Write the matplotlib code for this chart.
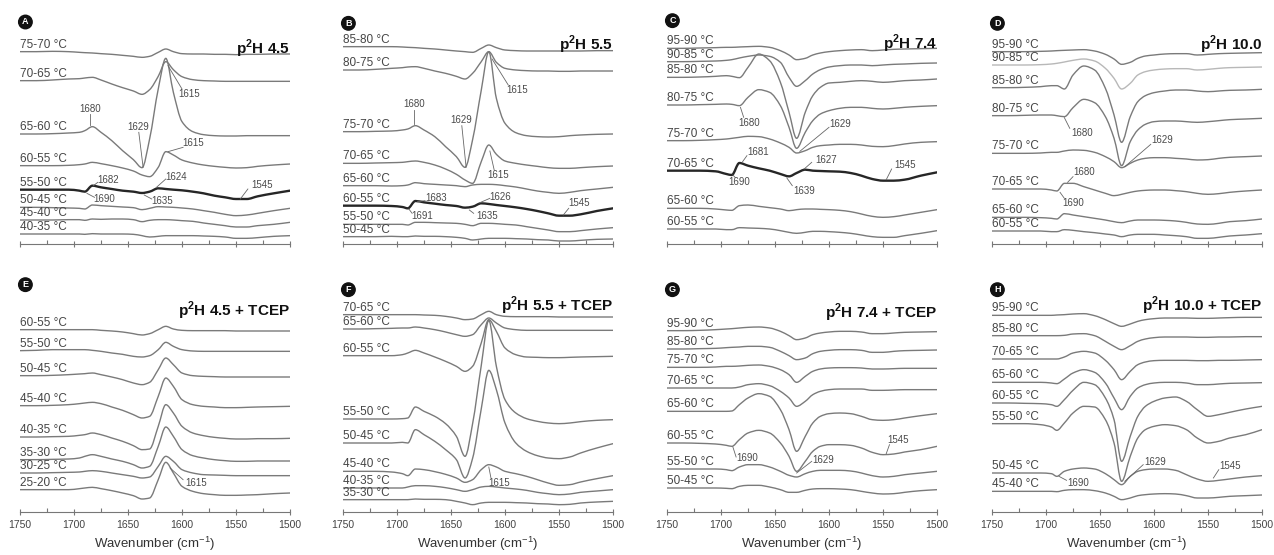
import numpy as np
import matplotlib
matplotlib.use('Agg')
import matplotlib.pyplot as plt
from matplotlib.ticker import MultipleLocator
from matplotlib.path import Path
from matplotlib.patches import PathPatch

plt.rcParams['font.family'] = ['Liberation Sans', 'DejaVu Sans']
plt.rcParams['mathtext.fontset'] = 'custom'
plt.rcParams['mathtext.rm'] = 'Liberation Sans'
plt.rcParams['mathtext.bf'] = 'Liberation Sans:bold'

################################################################################
# Data: difference spectra (arbitrary units) sampled on a common wavenumber grid
################################################################################
wavenumber = [1750, 1735, 1720, 1705, 1695, 1690, 1683, 1675, 1665, 1655, 1645, 1637, 1630,
              1622, 1615, 1608, 1600, 1590, 1580, 1570, 1560, 1550, 1540, 1530, 1515, 1500]

# A - p2H 4.5
A_labels = ["75-70 °C", "70-65 °C", "65-60 °C", "60-55 °C", "55-50 °C", "50-45 °C", "45-40 °C", "40-35 °C"]
A_offsets = [577, 490, 330, 235, 163, 110, 72, 30]
A_spectra = [
    [0, 0, 1, 0, -2, -3, -4, -6, -8, -11, -14, -17, -14, -2, 8, 0, -6, -7, -7, -8, -8, -9, -8, -8, -7, -7],
    [0, 0, 2, 5, 6, 8, 10, 2, -10, -21, -31, -41, -27, 13, 57, 33, 12, 3, 0, -1, -2, -2, -2, -2, -2, -2],
    [0, 0, 1, 3, 5, 10, 22, 5, -20, -50, -77, -101, -15, 135, 227, 125, 37, 7, -2, -5, -6, -6, -5, -5, -5, -5],
    [0, 0, 0, 1, 3, 5, 10, 6, 0, -7, -16, -28, -33, -5, 42, 32, 17, 8, 2, -2, -5, -7, -6, -2, 2, 5],
    [0, 0, 0, 0, -3, -6, 12, 7, 2, -3, -6, -10, -6, 4, 2, 0, -2, -6, -11, -18, -23, -28, -28, -20, -11, -3],
    [0, 0, -1, -2, -3, -5, 7, 5, 3, 1, -1, -7, -3, 2, 1, 0, -2, -5, -10, -15, -21, -25, -23, -18, -10, -3],
    [0, 0, 0, 1, 1, -1, 3, 2, 3, 3, 1, -5, -1, 1, 1, 0, -2, -4, -9, -13, -17, -21, -21, -17, -13, -7],
    [0, 0, 0, 0, 0, -1, 1, 0, 0, 0, -1, -5, -9, -7, -5, -5, -5, -5, -6, -7, -9, -13, -13, -11, -7, -5],
]
A_notes = [("1680", 1685, 405, 1685, 390, 1685, 357), ("1629", 1641, 350, 1640, 335, 1636, 230),
           ("1615", 1593, 450, 1600, 465, 1613, 535), ("1615", 1590, 303, 1599, 290, 1613, 277),
           ("1682", 1668, 192, 1678, 185, 1682, 175), ("1690", 1672, 135, 1681, 140, 1688, 152),
           ("1624", 1605, 202, 1615, 195, 1624, 169), ("1635", 1618, 130, 1628, 135, 1635, 147),
           ("1545", 1526, 178, 1539, 165, 1546, 135)]

# B - p2H 5.5
B_labels = ["85-80 °C", "80-75 °C", "75-70 °C", "70-65 °C", "65-60 °C", "60-55 °C", "55-50 °C", "50-45 °C"]
B_offsets = [592, 522, 337, 242, 175, 115, 59, 22]
B_spectra = [
    [0, 0, 0, 0, -1, -2, -3, -5, -7, -10, -13, -15, -17, -5, 5, -3, -10, -12, -13, -13, -13, -13, -13, -13, -12, -12],
    [0, 0, 2, 5, 7, 9, 10, 5, -3, -10, -19, -27, -10, 25, 55, 23, 5, 0, -2, -3, -3, -4, -4, -3, -3, -3],
    [0, 0, 1, 2, 5, 8, 18, 5, -15, -45, -75, -107, -24, 124, 240, 100, 25, -3, -12, -15, -16, -15, -12, -10, -8, -7],
    [0, 0, 1, 2, 3, 5, 7, 3, -5, -17, -33, -50, -60, 5, 55, 27, 7, 0, -5, -9, -13, -15, -15, -13, -10, -8],
    [0, 0, 0, -1, 0, 2, 9, 6, 4, 2, 0, -3, 2, 4, 4, 3, 0, -4, -10, -16, -20, -23, -20, -15, -10, -5],
    [0, 0, 0, -1, -4, -8, 14, 10, 6, 2, -1, -6, -3, 7, 5, 2, -1, -5, -10, -16, -23, -30, -30, -26, -16, -8],
    [0, 0, 0, 0, 0, -2, 6, 6, 5, 4, 3, 0, -4, 3, 3, 2, 0, -2, -7, -12, -17, -22, -22, -19, -14, -10],
    [0, 0, 0, 1, 0, 0, 2, 1, 1, 0, -2, -5, -10, -7, -5, -5, -5, -6, -7, -9, -10, -13, -13, -11, -8, -7],
]
B_notes = [("1615", 1589, 462, 1597, 477, 1612, 555), ("1680", 1684, 419, 1684, 402, 1684, 360),
           ("1629", 1641, 372, 1640, 355, 1636, 230), ("1615", 1606, 207, 1610, 222, 1614, 279),
           ("1683", 1664, 137, 1674, 130, 1681, 127), ("1691", 1677, 84, 1686, 92, 1689, 105),
           ("1626", 1604, 142, 1614, 137, 1624, 123), ("1635", 1617, 84, 1629, 92, 1633, 102),
           ("1545", 1531, 122, 1541, 107, 1546, 87)]

# C - p2H 7.4
C_labels = ["95-90 °C", "90-85 °C", "85-80 °C", "80-75 °C", "75-70 °C", "70-65 °C", "65-60 °C", "60-55 °C"]
C_offsets = [587, 547, 500, 417, 310, 220, 107, 45]
C_spectra = [
    [0, 0, 1, 2, 3, 3, 4, 5, 6, 3, -7, -20, -34, -30, -20, -14, -10, -7, -5, -4, -7, -5, -3, -2, -1, 0],
    [0, 0, 1, 2, 4, 6, 11, 16, 20, 16, -2, -47, -74, -57, -37, -24, -16, -12, -10, -10, -12, -10, -8, -7, -5, -4],
    [0, 0, 1, 3, 5, 3, -1, 30, 70, 50, -15, -105, -183, -105, -55, -30, -17, -15, -12, -10, -12, -15, -13, -10, -8, -5],
    [0, 0, 1, 2, 3, 2, -2, 23, 46, 38, -2, -67, -130, -82, -47, -27, -17, -10, -7, -7, -10, -12, -10, -7, -4, -2],
    [0, 0, 1, 3, 5, 7, 10, 13, 12, 5, -7, -20, -37, -30, -20, -15, -13, -11, -11, -13, -17, -18, -15, -10, -5, -3],
    [0, 0, 0, -2, -10, -13, 23, 15, 7, 0, -10, -17, -7, 3, 0, -1, -2, -3, -7, -15, -25, -30, -30, -27, -15, -5],
    [0, 0, 0, -2, -5, -6, 8, 10, 6, 2, -2, -7, -4, -2, -2, -3, -4, -6, -10, -17, -24, -27, -25, -20, -12, -4],
    [0, 0, 0, 0, -2, -2, 4, 3, 2, 0, -5, -10, -13, -10, -7, -7, -8, -10, -13, -18, -23, -25, -25, -20, -13, -5],
]
C_notes = [("1680", 1674, 363, 1679, 380, 1682, 410), ("1629", 1590, 360, 1600, 350, 1627, 278),
           ("1681", 1666, 275, 1676, 265, 1680, 247), ("1690", 1683, 187, 1687, 200, 1689, 207),
           ("1627", 1603, 253, 1616, 245, 1623, 225), ("1639", 1623, 160, 1634, 175, 1639, 198),
           ("1545", 1530, 238, 1542, 225, 1547, 193)]

# D - p2H 10.0
D_labels = ["95-90 °C", "90-85 °C", "85-80 °C", "80-75 °C", "75-70 °C", "70-65 °C", "65-60 °C", "60-55 °C"]
D_offsets = [577, 537, 469, 385, 272, 165, 80, 39]
D_spectra = [
    [0, 0, 0, 1, 2, 3, 4, 5, 6, 2, -8, -22, -38, -32, -20, -13, -10, -7, -6, -6, -10, -8, -6, -5, -4, -3],
    [0, 0, 0, 1, 3, 5, 9, 14, 18, 12, -10, -40, -72, -55, -30, -20, -15, -12, -11, -11, -15, -13, -10, -8, -7, -6],
    [0, 0, 1, 3, 6, 6, -4, 38, 65, 53, -2, -82, -164, -87, -42, -24, -15, -10, -7, -7, -10, -12, -10, -8, -7, -5],
    [0, 0, 1, 2, 2, 0, -3, 24, 49, 39, -3, -68, -150, -78, -43, -26, -18, -16, -16, -18, -20, -18, -15, -12, -10, -8],
    [0, 0, 0, 1, 3, 3, 7, 10, 9, 3, -10, -25, -43, -30, -20, -15, -13, -13, -15, -17, -20, -19, -15, -12, -10, -8],
    [0, 0, 0, 0, -3, -6, 17, 17, 7, -3, -13, -20, -16, -10, -6, -4, -3, -3, -5, -8, -13, -16, -14, -10, -6, -3],
    [0, 0, 0, -1, -3, -5, 11, 7, 2, -3, -8, -13, -16, -11, -8, -8, -8, -9, -11, -15, -20, -21, -18, -13, -10, -5],
    [0, 0, 0, 0, -2, -2, 4, 2, -2, -5, -9, -12, -17, -12, -10, -10, -10, -12, -14, -17, -22, -22, -19, -15, -12, -8],
]
D_notes = [("1680", 1667, 332, 1678, 347, 1683, 379), ("1629", 1592, 312, 1603, 299, 1627, 232),
           ("1680", 1665, 217, 1675, 202, 1680, 185), ("1690", 1675, 122, 1683, 137, 1687, 155)]

# E - p2H 4.5 + TCEP
E_labels = ["60-55 °C", "55-50 °C", "50-45 °C", "45-40 °C", "40-35 °C", "35-30 °C", "30-25 °C", "25-20 °C"]
E_offsets = [547, 484, 409, 319, 225, 157, 117, 67]
E_spectra = [
    [0, 0, 0, 0, 0, 0, 0, -2, -4, -7, -12, -16, -12, 0, 10, 2, -2, -3, -3, -3, -3, -4, -4, -4, -4, -4],
    [0, 1, 3, 3, 3, 3, 1, -2, -7, -11, -17, -19, -15, 3, 25, 13, 3, -1, -2, -2, -2, -2, -2, -2, -2, -2],
    [0, 0, 1, 3, 5, 6, 8, 3, -4, -12, -22, -27, -20, 18, 53, 33, 8, 0, -2, -3, -4, -4, -4, -4, -4, -4],
    [0, 0, 1, 3, 6, 8, 10, 6, -4, -14, -27, -37, -32, 28, 83, 58, 18, 3, -2, -4, -6, -6, -5, -4, -3, -2],
    [0, 0, 1, 2, 5, 7, 12, 7, -3, -13, -26, -38, -36, 32, 97, 72, 32, 12, 4, -1, -4, -6, -6, -5, -5, -4],
    [0, 0, 1, 2, 5, 10, 15, 10, 2, -5, -15, -25, -20, 40, 98, 70, 30, 12, 5, 0, -3, -5, -5, -4, -4, -4],
    [0, 0, 1, 2, 3, 5, 7, 5, 0, -5, -10, -15, -12, 20, 50, 35, 10, 0, -5, -6, -7, -8, -8, -8, -8, -8],
    [0, 0, 0, 0, 3, 5, 7, 3, -3, -10, -18, -28, -25, 30, 82, 50, 10, -5, -12, -15, -17, -17, -16, -15, -12, -10],
]
E_notes = [("1615", 1587, 87, 1599, 97, 1611, 132)]

# F - p2H 5.5 + TCEP
F_labels = ["70-65 °C", "65-60 °C", "60-55 °C", "55-50 °C", "50-45 °C", "45-40 °C", "40-35 °C", "35-30 °C"]
F_offsets = [592, 549, 469, 279, 207, 122, 72, 37]
F_spectra = [
    [0, 0, 0, 0, 0, 0, 0, -1, -2, -5, -10, -15, -13, 0, 10, 0, -5, -6, -6, -6, -6, -7, -7, -7, -7, -7],
    [0, 0, 1, 2, 3, 3, 6, 3, -2, -9, -17, -22, -17, 13, 33, 18, 3, -2, -4, -4, -4, -4, -4, -4, -4, -4],
    [0, 0, 0, 0, 3, 8, 16, 8, -4, -17, -32, -47, -32, 38, 108, 73, 23, 3, -4, -5, -6, -6, -5, -4, -3, -2],
    [0, 0, 0, 0, 1, 3, 36, 23, 8, -14, -52, -112, -14, 160, 296, 158, 58, 18, 1, -7, -12, -14, -12, -8, -4, -2],
    [0, 0, 0, 0, 2, 0, 40, 25, 5, -20, -50, -105, -46, 102, 218, 160, 60, 0, -25, -38, -45, -47, -42, -30, -15, -2],
    [0, 0, 0, -2, -7, -13, 7, 5, -1, -9, -20, -33, -25, 5, 20, 13, 0, -7, -15, -25, -35, -42, -40, -32, -22, -13],
    [0, 0, 0, 0, 0, 3, 7, 7, 5, 1, -5, -10, -5, 3, 5, 3, 0, -3, -7, -13, -17, -20, -18, -13, -9, -5],
    [0, 0, 0, 0, 0, 0, 2, 1, 1, 0, -5, -10, -15, -10, -8, -8, -8, -9, -10, -12, -13, -15, -14, -10, -7, -5],
]
F_notes = [("1615", 1605, 87, 1613, 102, 1615, 135)]

# G - p2H 7.4 + TCEP
G_labels = ["95-90 °C", "85-80 °C", "75-70 °C", "70-65 °C", "65-60 °C", "60-55 °C", "55-50 °C", "50-45 °C"]
G_offsets = [544, 489, 434, 372, 302, 207, 129, 72]
G_spectra = [
    [0, 0, 1, 3, 5, 6, 8, 10, 11, 8, -2, -15, -27, -22, -12, -7, -4, -2, -2, -4, -9, -9, -7, -5, -4, -3],
    [0, 0, 1, 2, 4, 5, 6, 8, 8, 5, -7, -20, -32, -27, -14, -7, -4, -2, -2, -4, -10, -10, -7, -5, -4, -3],
    [0, 0, 0, 1, 3, 3, 4, 6, 7, 3, -7, -22, -45, -27, -12, -5, -2, -1, -1, -2, -5, -5, -4, -3, -3, -3],
    [0, 0, 0, 0, 0, 0, 3, 10, 13, 7, -10, -30, -55, -40, -20, -10, -5, -3, -3, -3, -7, -7, -6, -5, -5, -5],
    [0, 0, 0, 0, 0, 1, 20, 40, 53, 45, 5, -55, -120, -75, -35, -15, -7, -5, -7, -15, -25, -27, -25, -20, -13, -7],
    [0, 0, -1, -3, -7, -10, 10, 30, 38, 30, 0, -40, -85, -55, -25, -10, -5, -5, -7, -15, -28, -35, -33, -27, -20, -10],
    [0, 0, 0, 0, -2, -5, 6, 13, 13, 6, -7, -19, -24, -14, -7, -4, -4, -4, -6, -12, -20, -24, -22, -17, -12, -7],
    [0, 0, 0, 0, -1, -2, 5, 8, 8, 3, -5, -13, -13, -7, -3, -2, -2, -3, -5, -10, -15, -18, -17, -13, -8, -5],
]
G_notes = [("1690", 1676, 162, 1686, 165, 1689, 195), ("1629", 1605, 157, 1616, 152, 1630, 117),
           ("1545", 1536, 215, 1544, 202, 1547, 175)]

# H - p2H 10.0 + TCEP
H_labels = ["95-90 °C", "85-80 °C", "70-65 °C", "65-60 °C", "60-55 °C", "55-50 °C", "50-45 °C", "45-40 °C"]
H_offsets = [590, 529, 459, 389, 327, 265, 117, 62]
H_spectra = [
    [0, 0, 0, 0, 0, 1, 2, 4, 5, -1, -13, -25, -33, -26, -18, -13, -10, -8, -8, -8, -9, -9, -8, -7, -6, -6],
    [0, 0, 0, 0, 0, 0, 1, 5, 6, 0, -17, -32, -42, -30, -17, -10, -6, -4, -4, -4, -5, -5, -4, -4, -3, -3],
    [0, 0, 0, 0, 0, 0, 6, 18, 23, 18, -4, -32, -62, -37, -17, -9, -5, -4, -4, -4, -5, -5, -4, -4, -3, -2],
    [0, 0, 0, 0, -2, -4, 10, 28, 38, 30, -2, -47, -82, -42, -17, -7, -2, 0, 0, -2, -7, -7, -5, -3, -2, -1],
    [0, 0, -1, -2, -5, -10, 10, 38, 62, 55, 15, -50, -175, -100, -40, -10, 5, 15, 18, 5, -20, -40, -35, -28, -18, -10],
    [0, 0, 0, -3, -10, -20, 2, 32, 52, 50, 12, -58, -173, -98, -43, -18, -8, -3, -6, -18, -43, -58, -53, -43, -33, -18],
    [0, 0, 0, 0, -2, -10, 5, 12, 15, 12, -2, -20, -35, -10, 5, 10, 12, 12, 8, -5, -18, -25, -22, -18, -12, -8],
    [0, 0, 0, 0, 0, -1, 3, 5, 5, 2, -5, -15, -25, -20, -13, -10, -8, -7, -8, -13, -20, -20, -18, -15, -13, -11],
]
H_notes = [("1629", 1599, 149, 1610, 142, 1627, 92), ("1545", 1530, 137, 1540, 127, 1545, 102),
           ("1690", 1670, 87, 1681, 95, 1688, 107)]

letters = ["A", "B", "C", "D", "E", "F", "G", "H"]
titles = [r"p$^{\mathbf{2}}$H 4.5", r"p$^{\mathbf{2}}$H 5.5", r"p$^{\mathbf{2}}$H 7.4", r"p$^{\mathbf{2}}$H 10.0",
          r"p$^{\mathbf{2}}$H 4.5 + TCEP", r"p$^{\mathbf{2}}$H 5.5 + TCEP",
          r"p$^{\mathbf{2}}$H 7.4 + TCEP", r"p$^{\mathbf{2}}$H 10.0 + TCEP"]
title_y = [585, 597, 600, 597, 602, 617, 597, 617]
letter_y = [666, 662, 670, 662, 682, 667, 667, 667]
bold_trace = [4, 5, 5, None, None, None, None, None]
light_trace = [None, None, None, 1, None, None, None, None]

panels = [(A_labels, A_offsets, A_spectra, A_notes), (B_labels, B_offsets, B_spectra, B_notes),
          (C_labels, C_offsets, C_spectra, C_notes), (D_labels, D_offsets, D_spectra, D_notes),
          (E_labels, E_offsets, E_spectra, E_notes), (F_labels, F_offsets, F_spectra, F_notes),
          (G_labels, G_offsets, G_spectra, G_notes), (H_labels, H_offsets, H_spectra, H_notes)]


def smooth_path(x, y):
    # monotone cubic (Fritsch-Carlson) Bezier through the read points, drawn by the renderer
    x = np.asarray(x, float)
    y = np.asarray(y, float)
    h = np.diff(x)
    d = np.diff(y) / h
    m = np.zeros_like(y)
    m[0], m[-1] = d[0], d[-1]
    for k in range(1, len(x) - 1):
        if d[k - 1] * d[k] > 0:
            h0, h1 = abs(h[k - 1]), abs(h[k])
            w1, w2 = 2 * h1 + h0, h1 + 2 * h0
            m[k] = (w1 + w2) / (w1 / d[k - 1] + w2 / d[k])
    verts = [(x[0], y[0])]
    codes = [Path.MOVETO]
    for k in range(len(x) - 1):
        verts += [(x[k] + h[k] / 3, y[k] + m[k] * h[k] / 3),
                  (x[k + 1] - h[k] / 3, y[k + 1] - m[k + 1] * h[k] / 3),
                  (x[k + 1], y[k + 1])]
        codes += [Path.CURVE4] * 3
    return Path(verts, codes)


################################################################################
# Figure
################################################################################
W, H = 1274, 555
fig = plt.figure(figsize=(W / 100, H / 100), dpi=100)
lefts = [20, 343, 667, 992]
wn = np.array(wavenumber)

for i, (labels, offsets, spectra, notes) in enumerate(panels):
    row, col = divmod(i, 4)
    if row == 0:
        axis_px, height_px = 244, 234
    else:
        axis_px, height_px = 512, 236
    ax = fig.add_axes([lefts[col] / W, (H - axis_px) / H, 270 / W, height_px / H])
    ax.set_xlim(1750, 1500)
    ax.set_ylim(0, height_px * 3)

    for k, (lab, off, s) in enumerate(zip(labels, offsets, spectra)):
        y = off + np.array(s)
        if k == bold_trace[i]:
            color, lw = '#262626', 1.7
        elif k == light_trace[i]:
            color, lw = '#b8b8b8', 1.0
        else:
            color, lw = '#7a7a7a', 1.0
        ax.add_patch(PathPatch(smooth_path(wn, y), fill=False, edgecolor=color, lw=lw,
                               capstyle='round', joinstyle='round'))
        ax.text(1750, off + 3, lab, ha='left', va='bottom', fontsize=8.5, color='#454545')

    for txt, tx, ty, x0, y0, x1, y1 in notes:
        ax.plot([x0, x1], [y0, y1], color='#666666', lw=0.6)
        ax.text(tx, ty, txt, ha='center', va='center', fontsize=7, color='#4a4a4a')

    ax.text(1500, title_y[i], titles[i], ha='right', va='center', fontsize=11,
            fontweight='bold', color='#111111')
    ax.text(1745, letter_y[i], letters[i], ha='center', va='center', fontsize=6.5,
            fontweight='bold', color='white',
            bbox=dict(boxstyle='circle,pad=0.25', fc='#111111', ec='#111111'))

    for side in ['left', 'right', 'top']:
        ax.spines[side].set_visible(False)
    ax.spines['bottom'].set_color('#777777')
    ax.spines['bottom'].set_linewidth(0.8)
    ax.set_yticks([])
    ax.xaxis.set_major_locator(MultipleLocator(50))
    ax.xaxis.set_minor_locator(MultipleLocator(25))
    ax.tick_params(axis='x', which='major', direction='inout', length=5, width=0.8,
                   color='#777777', labelsize=7.5, labelcolor='#444444', pad=3)
    ax.tick_params(axis='x', which='minor', direction='in', length=3, width=0.8, color='#777777')
    if row == 0:
        ax.tick_params(axis='x', labelbottom=False)
    else:
        ax.set_xlabel('Wavenumber (cm$^{-1}$)', fontsize=9.5, color='#333333', labelpad=4)

fig.savefig('out.png', dpi=100)
